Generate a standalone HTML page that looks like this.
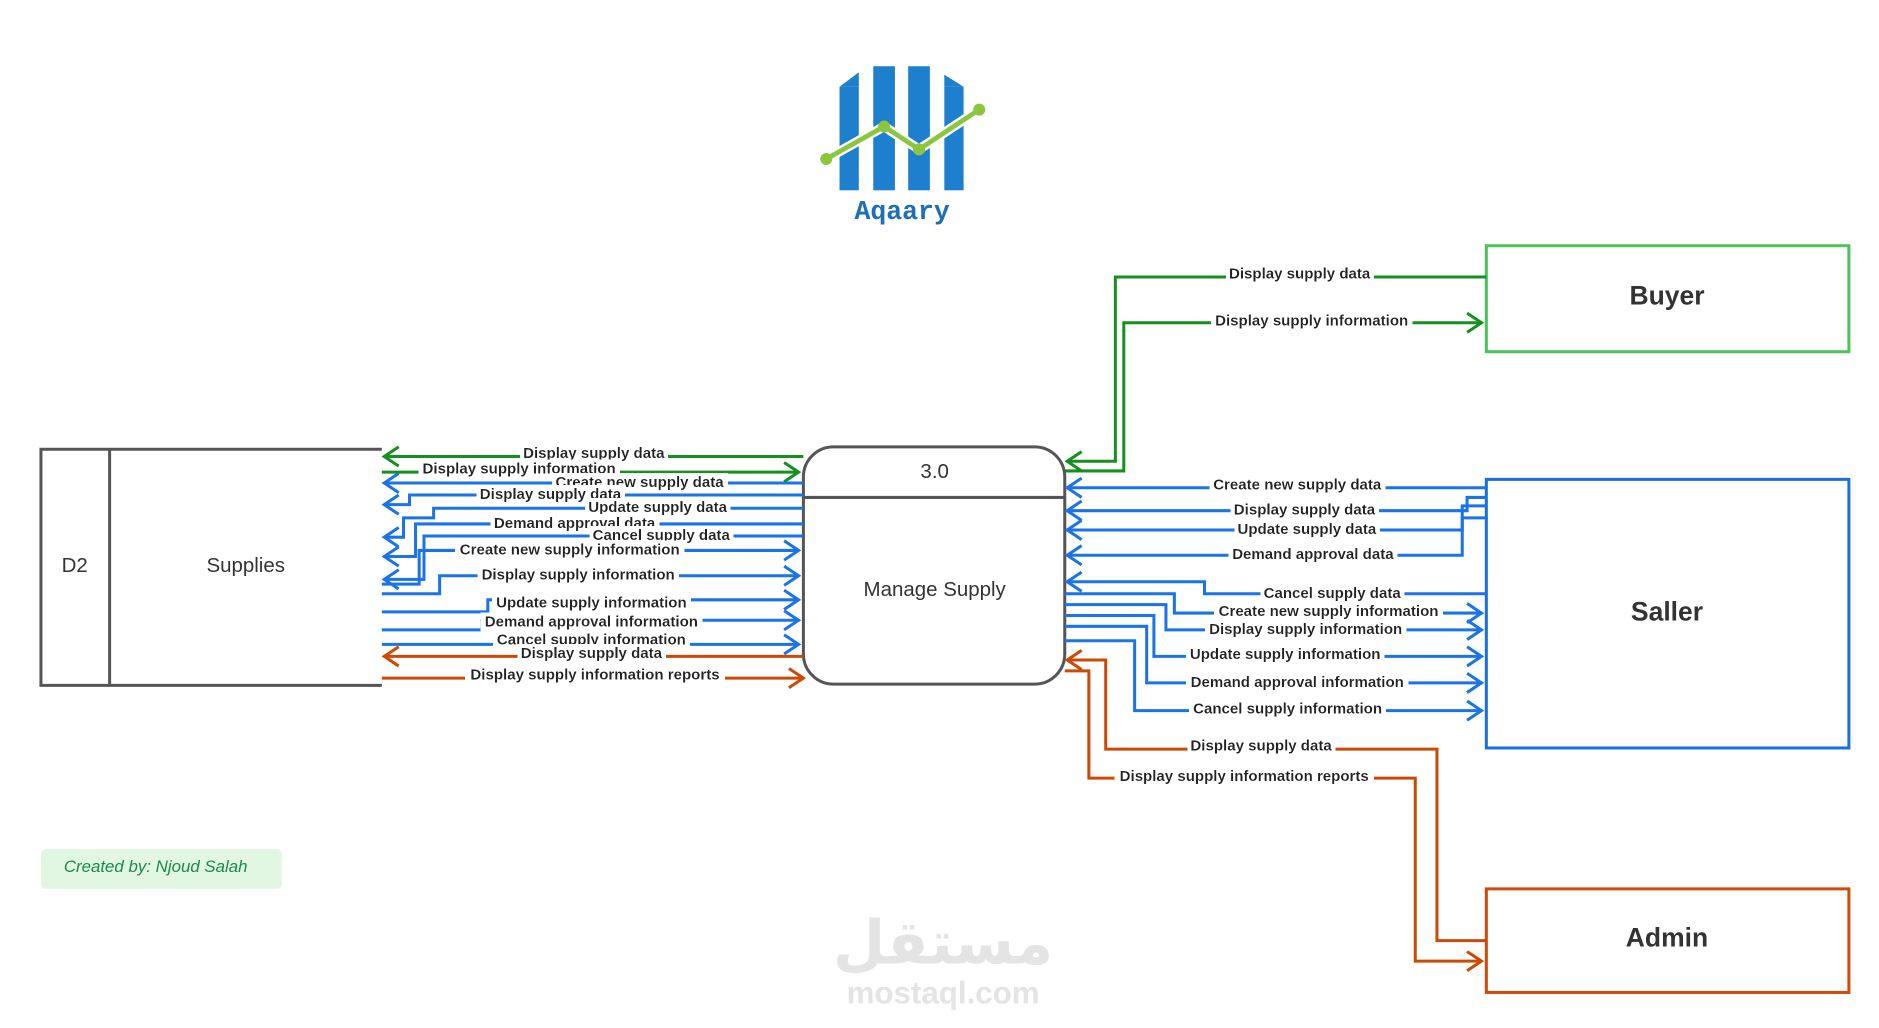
<!DOCTYPE html>
<html><head><meta charset="utf-8"><style>
html,body{margin:0;padding:0;background:#fff;width:1879px;height:1028px;overflow:hidden}
svg{display:block}
.l{font-family:"Liberation Sans",sans-serif;font-size:12.5px;font-weight:bold;fill:#222;text-anchor:middle;dominant-baseline:middle}
.g{stroke:#14901e;fill:none;stroke-width:2.5}
.b{stroke:#1a73e8;fill:none;stroke-width:2.5}
.o{stroke:#cc4a05;fill:none;stroke-width:2.5}
</style></head><body>
<svg width="1879" height="1028" viewBox="0 0 1560 853.5" preserveAspectRatio="none" xmlns="http://www.w3.org/2000/svg">
<defs>
<filter id="bg" x="-0.02" y="-0.05" width="1.04" height="1.1"><feFlood flood-color="#fff"/><feComposite in="SourceGraphic" operator="over"/></filter>
<marker id="mg" markerUnits="userSpaceOnUse" markerWidth="16" markerHeight="20" refX="13" refY="9" orient="auto"><path d="M1,1 L13,9 L1,17" fill="none" stroke="#14901e" stroke-width="2.5"/></marker>
<marker id="mb" markerUnits="userSpaceOnUse" markerWidth="16" markerHeight="20" refX="13" refY="9" orient="auto"><path d="M1,1 L13,9 L1,17" fill="none" stroke="#1a73e8" stroke-width="2.5"/></marker>
<marker id="mo" markerUnits="userSpaceOnUse" markerWidth="16" markerHeight="20" refX="13" refY="9" orient="auto"><path d="M1,1 L13,9 L1,17" fill="none" stroke="#cc4a05" stroke-width="2.5"/></marker>
</defs>
<!-- logo -->
<g fill="#1e7fcf">
<rect x="697" y="72" width="16" height="86"/><rect x="725" y="55" width="18" height="103"/><rect x="754" y="55" width="18" height="103"/><rect x="784" y="72" width="16" height="86"/>
<polygon points="697,72 713,60 713,72"/><polygon points="784,72 800,72 784,62"/>
</g>
<polyline points="686,132 734,105 763,124 813,91" fill="none" stroke="#fff" stroke-width="8"/>
<polyline points="686,132 734,105 763,124 813,91" fill="none" stroke="#8cc63f" stroke-width="4"/>
<g fill="#8cc63f"><circle cx="686" cy="132" r="5"/><circle cx="734" cy="105" r="5"/><circle cx="763" cy="124" r="5"/><circle cx="813" cy="91" r="5"/></g>
<text x="749" y="182" font-family="Liberation Mono,monospace" font-weight="bold" font-size="22" fill="#1e6fb8" text-anchor="middle">Aqaary</text>
<!-- data store -->
<path d="M317,373 H34 V569 H317" fill="none" stroke="#555" stroke-width="2.5"/>
<line x1="91" y1="373" x2="91" y2="569" stroke="#555" stroke-width="2.5"/>
<text x="62" y="475" font-family="Liberation Sans,sans-serif" font-size="17" fill="#333" text-anchor="middle">D2</text>
<text x="204" y="475" font-family="Liberation Sans,sans-serif" font-size="17" fill="#333" text-anchor="middle">Supplies</text>
<!-- process -->
<rect x="667" y="371" width="217" height="197" rx="25" fill="#fff" stroke="#555" stroke-width="2.5"/>
<line x1="667" y1="413" x2="884" y2="413" stroke="#555" stroke-width="2.5"/>
<text x="776" y="397" font-family="Liberation Sans,sans-serif" font-size="17" fill="#333" text-anchor="middle">3.0</text>
<text x="776" y="495" font-family="Liberation Sans,sans-serif" font-size="17" fill="#333" text-anchor="middle">Manage Supply</text>
<!-- entities -->
<rect x="1234" y="204" width="301" height="88" fill="#fff" stroke="#4cc25a" stroke-width="2.5"/>
<text x="1384" y="253" font-family="Liberation Sans,sans-serif" font-weight="bold" font-size="22" fill="#333" text-anchor="middle">Buyer</text>
<rect x="1234" y="398" width="301" height="223" fill="#fff" stroke="#1a6fe0" stroke-width="2.5"/>
<text x="1384" y="515" font-family="Liberation Sans,sans-serif" font-weight="bold" font-size="22" fill="#333" text-anchor="middle">Saller</text>
<rect x="1234" y="738" width="301" height="86" fill="#fff" stroke="#d04a0a" stroke-width="2.5"/>
<text x="1384" y="786" font-family="Liberation Sans,sans-serif" font-weight="bold" font-size="22" fill="#333" text-anchor="middle">Admin</text>
<!-- created by -->
<rect x="34" y="705" width="200" height="33" rx="4" fill="#e2f7e2"/>
<text x="53" y="724" font-family="Liberation Sans,sans-serif" font-style="italic" font-size="14" fill="#1a8a4a">Created by: Njoud Salah</text>
<!-- watermark -->
<text x="783" y="800" font-family="Noto Sans CJK SC,DejaVu Sans,sans-serif" font-weight="bold" font-size="50" fill="#e4e4e4" text-anchor="middle">مستقل</text>
<text x="783" y="833" font-family="Liberation Sans,sans-serif" font-weight="bold" font-size="26" fill="#e4e4e4" text-anchor="middle">mostaql.com</text>
<!-- left flows -->
<path class="g" d="M667,379 H319" marker-end="url(#mg)"/>
<path class="g" d="M317,392 H663" marker-end="url(#mg)"/>
<path class="b" d="M667,401 H319" marker-end="url(#mb)"/>
<path class="b" d="M667,411 H340 V419 H319" marker-end="url(#mb)" stroke-width="2"/>
<path class="b" d="M667,422 H360 V430 H335 V446 H319" marker-end="url(#mb)" stroke-width="2"/>
<path class="b" d="M667,435 H345 V462 H319" marker-end="url(#mb)" stroke-width="2"/>
<path class="b" d="M667,445 H352 V481 H319" marker-end="url(#mb)" stroke-width="2"/>
<path class="b" d="M317,485 H348 V457 H663" marker-end="url(#mb)"/>
<path class="b" d="M317,493 H365 V478 H663" marker-end="url(#mb)"/>
<path class="b" d="M317,508 H405 V498 H663" marker-end="url(#mb)"/>
<path class="b" d="M317,523 H400 V515 H663" marker-end="url(#mb)"/>
<path class="b" d="M317,535 H663" marker-end="url(#mb)"/>
<path class="o" d="M667,545 H319" marker-end="url(#mo)"/>
<path class="o" d="M317,563 H667" marker-end="url(#mo)"/>
<!-- right flows -->
<path class="g" d="M1234,230 H926 V383 H886" marker-end="url(#mg)" stroke-width="2"/>
<path class="g" d="M884,391 H933 V268 H1230" marker-end="url(#mg)"/>
<path class="b" d="M1234,405 H886" marker-end="url(#mb)"/>
<path class="b" d="M1234,413 H1218 V424 H886" marker-end="url(#mb)" stroke-width="2"/>
<path class="b" d="M1234,420 H1214 V440 H886" marker-end="url(#mb)" stroke-width="2"/>
<path class="b" d="M1234,430 H1214 V461 H886" marker-end="url(#mb)" stroke-width="2"/>
<path class="b" d="M1234,493 H1000 V483 H886" marker-end="url(#mb)" stroke-width="2"/>
<path class="b" d="M884,493 H975 V509 H1230" marker-end="url(#mb)"/>
<path class="b" d="M884,502 H968 V523 H1230" marker-end="url(#mb)"/>
<path class="b" d="M884,511 H958 V545 H1230" marker-end="url(#mb)"/>
<path class="b" d="M884,520 H952 V567 H1230" marker-end="url(#mb)"/>
<path class="b" d="M884,532 H942 V590 H1230" marker-end="url(#mb)"/>
<path class="o" d="M1234,781 H1193 V622 H918 V548 H886" marker-end="url(#mo)" stroke-width="2"/>
<path class="o" d="M884,557 H904 V646 H1175 V798 H1230" marker-end="url(#mo)"/>
<!-- labels -->
<g class="l">
<text x="493" y="377" filter="url(#bg)">Display supply data</text>
<text x="431" y="390" filter="url(#bg)">Display supply information</text>
<text x="531" y="401" filter="url(#bg)">Create new supply data</text>
<text x="457" y="411" filter="url(#bg)">Display supply data</text>
<text x="546" y="422" filter="url(#bg)">Update supply data</text>
<text x="477" y="435" filter="url(#bg)">Demand approval data</text>
<text x="549" y="445" filter="url(#bg)">Cancel supply data</text>
<text x="473" y="457" filter="url(#bg)">Create new supply information</text>
<text x="480" y="478" filter="url(#bg)">Display supply information</text>
<text x="491" y="501" filter="url(#bg)">Update supply information</text>
<text x="491" y="517" filter="url(#bg)">Demand approval information</text>
<text x="491" y="532" filter="url(#bg)">Cancel supply information</text>
<text x="491" y="543" filter="url(#bg)">Display supply data</text>
<text x="494" y="561" filter="url(#bg)">Display supply information reports</text>
<text x="1079" y="228" filter="url(#bg)">Display supply data</text>
<text x="1089" y="267" filter="url(#bg)">Display supply information</text>
<text x="1077" y="403" filter="url(#bg)">Create new supply data</text>
<text x="1083" y="424" filter="url(#bg)">Display supply data</text>
<text x="1085" y="440" filter="url(#bg)">Update supply data</text>
<text x="1090" y="461" filter="url(#bg)">Demand approval data</text>
<text x="1106" y="493" filter="url(#bg)">Cancel supply data</text>
<text x="1103" y="508" filter="url(#bg)">Create new supply information</text>
<text x="1084" y="523" filter="url(#bg)">Display supply information</text>
<text x="1067" y="544" filter="url(#bg)">Update supply information</text>
<text x="1077" y="567" filter="url(#bg)">Demand approval information</text>
<text x="1069" y="589" filter="url(#bg)">Cancel supply information</text>
<text x="1047" y="620" filter="url(#bg)">Display supply data</text>
<text x="1033" y="645" filter="url(#bg)">Display supply information reports</text>
</g>
</svg>
</body></html>
